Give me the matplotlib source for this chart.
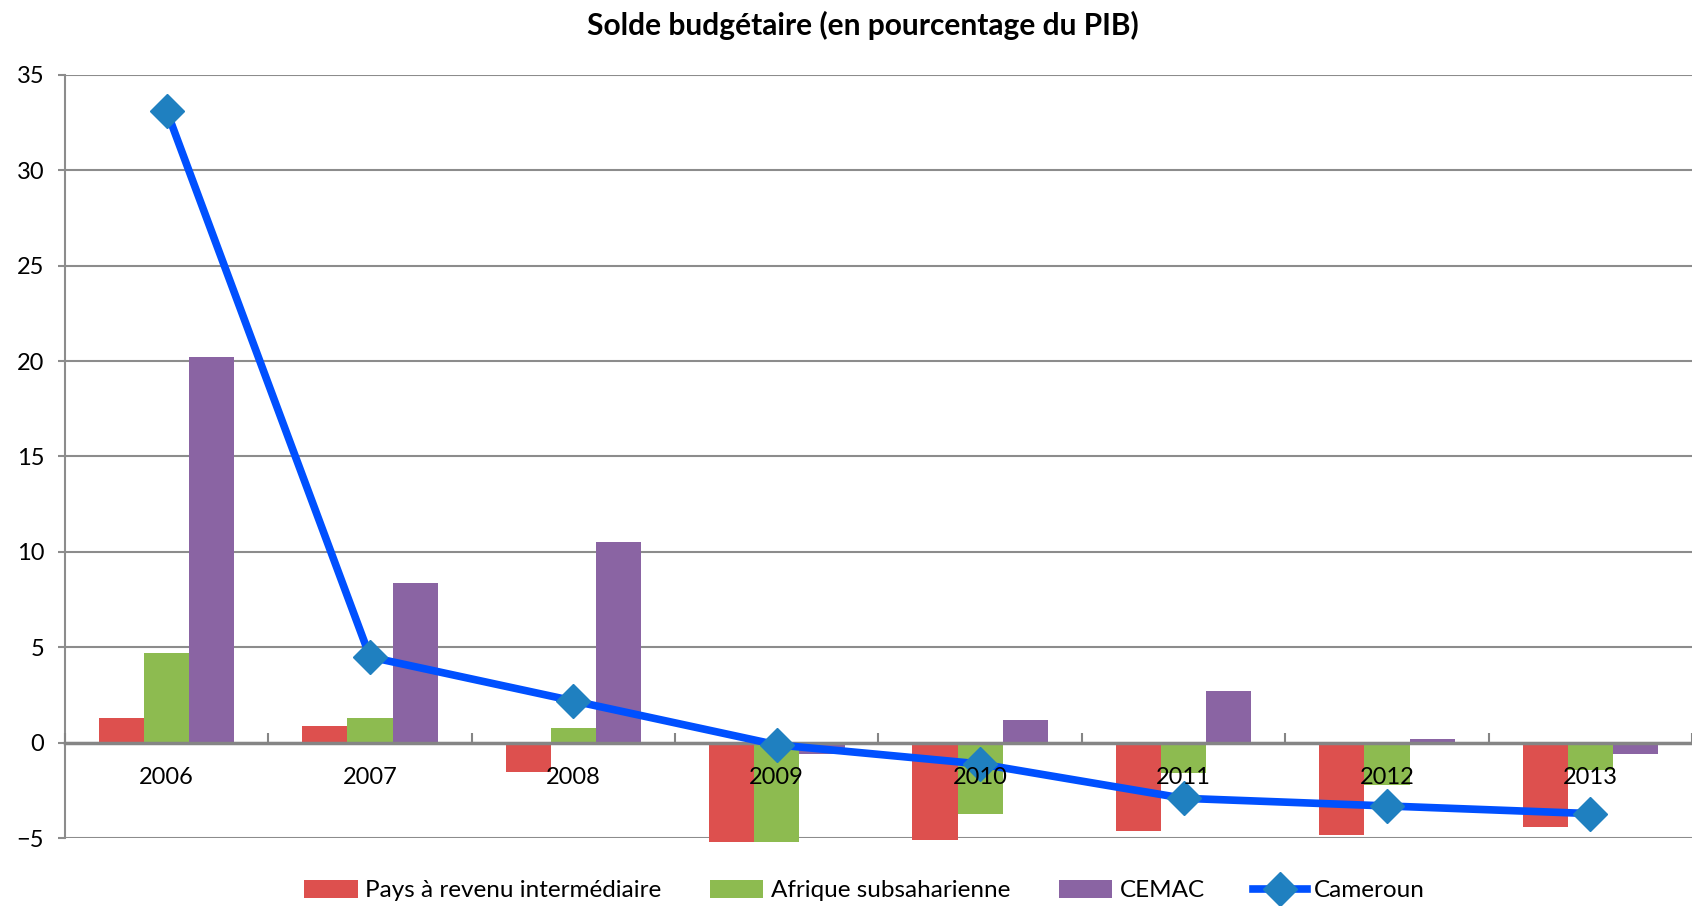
import numpy as np
import matplotlib.pyplot as plt

plt.rcParams['font.family'] = ['Lato', 'DejaVu Sans']

years = ["2006", "2007", "2008", "2009", "2010", "2011", "2012", "2013"]
pays_revenu = [1.3, 0.9, -1.5, -5.2, -5.1, -4.6, -4.8, -4.4]
afrique_ss = [4.7, 1.3, 0.8, -5.2, -3.7, -1.6, -2.2, -1.4]
cemac = [20.2, 8.4, 10.5, -0.6, 1.2, 2.7, 0.2, -0.6]
cameroun = [33.1, 4.5, 2.2, -0.1, -1.1, -2.9, -3.3, -3.7]

fig = plt.figure(figsize=(16.92, 9.06), dpi=100)
ax = fig.add_axes([0.0384, 0.0746, 0.9616, 0.8431])

x = np.arange(len(years))
w = 1 / 4.5
b1 = ax.bar(x - w, pays_revenu, w, color="#DD504E", label="Pays à revenu intermédiaire",
            zorder=2, clip_on=False)
b2 = ax.bar(x, afrique_ss, w, color="#8DBB50", label="Afrique subsaharienne",
            zorder=2, clip_on=False)
b3 = ax.bar(x + w, cemac, w, color="#8A64A3", label="CEMAC", zorder=2, clip_on=False)
l1, = ax.plot(x, cameroun, color="#0050FF", lw=5.5, marker="D", ms=17,
              mfc="#1F80C0", mec="#1F80C0", label="Cameroun", zorder=4)

ax.set_xlim(-0.5, len(years) - 0.5)
ax.set_ylim(-5, 35)
ax.set_yticks(range(-5, 36, 5))
ax.grid(axis="y", color="#8C8C8C", lw=1.5, zorder=0)

for s in ["top", "right"]:
    ax.spines[s].set_visible(False)
ax.spines["bottom"].set_position(("data", 0))
ax.spines["bottom"].set_color("#858585")
ax.spines["bottom"].set_linewidth(2.5)
ax.spines["bottom"].set_zorder(3)
ax.spines["left"].set_color("#8C8C8C")
ax.spines["left"].set_linewidth(1.5)

ax.set_xticks(np.arange(len(years) + 1) - 0.5)
ax.set_xticklabels([])
ax.tick_params(axis="x", which="major", direction="in", length=7, width=1.5, color="#858585")
ax.set_xticks(x, minor=True)
ax.set_xticklabels(years, minor=True, fontsize=17)
ax.tick_params(axis="x", which="minor", length=0, pad=17)
ax.tick_params(axis="y", length=5, width=1.5, color="#8C8C8C", labelsize=17, pad=10)
ax.xaxis.set_zorder(5)

fig.suptitle("Solde budgétaire (en pourcentage du PIB)", x=0.51, y=0.988,
             fontsize=21.5, fontweight="bold")

fig.legend(handles=[b1, b2, b3, l1], loc="center", bbox_to_anchor=(0.511, 0.017),
           ncol=4, frameon=False, fontsize=17.5, handlelength=2.2, handleheight=0.75,
           handletextpad=0.3, columnspacing=2.0, borderaxespad=0)

fig.savefig("out.png", dpi=100)
